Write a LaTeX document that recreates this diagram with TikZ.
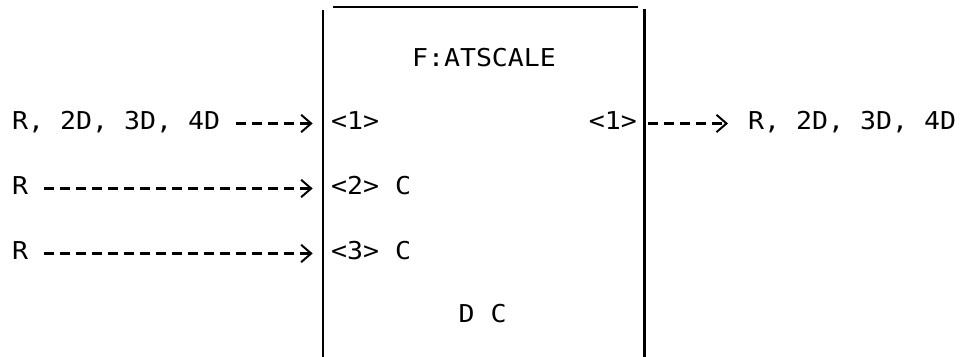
\documentclass[tikz,border=0pt]{standalone}
\usepackage{fontspec}
\newfontfamily\mono[FakeStretch=1.08]{DejaVu Sans Mono}
\usepackage{tikz}
\usetikzlibrary{arrows.meta,positioning}

\begin{document}
\begin{tikzpicture}[
  every node/.style={font=\mono\fontsize{21}{25}\selectfont, inner sep=0pt},
  link/.style={line width=1.8pt, dash pattern=on 0.3cm off 0.18cm,
    -{Straight Barb[length=0.3cm, width=0.52cm, line width=1.7pt]},
    shorten <=0.48cm, shorten >=0.55cm, transform canvas={yshift=0.12cm}},
  wall/.style={line width=2.4pt}
]
\useasboundingbox (0,0) rectangle (28.89,10.71);

% block frame
\node (blk) [anchor=south west, minimum width=9.63cm, minimum height=10.4cm] at (9.69,0) {};
\draw[wall] (blk.south west) -- (blk.north west);
\draw[wall] (blk.south east) -- ([yshift=0.03cm]blk.north east);
\draw[line width=1.3pt] ([xshift=0.3cm, yshift=0.08cm]blk.north west) -- ([xshift=-0.18cm, yshift=0.08cm]blk.north east);

\node (title) [anchor=base] at (14.52, 8.70) {F:ATSCALE};
\node (dc) [anchor=base] at (14.48, 1.02) {D C};

% inputs
\node (a1) [anchor=base west] at (0.36, 6.81) {R, 2D, 3D, 4D};
\node (a2) [anchor=base west] at (0.36, 4.86) {R};
\node (a3) [anchor=base west] at (0.36, 2.91) {R};
\node (p1) [anchor=base west] at (9.93, 6.81) {<1>};
\node (p2) [anchor=base west] at (9.93, 4.86) {<2> C};
\node (p3) [anchor=base west] at (9.93, 2.91) {<3> C};

% output
\node (q1) [anchor=base east] at (19.11, 6.81) {<1>};
\node (b1) [anchor=base west] at (22.44, 6.81) {R, 2D, 3D, 4D};

\draw[link] (a1.mid east) -- (p1.mid west);
\draw[link] (a2.mid east) -- (p2.mid west -| p1.mid west);
\draw[link] (a3.mid east) -- (p3.mid west -| p1.mid west);
\draw[link, shorten <=0.33cm, shorten >=0.6cm] (q1.mid east) -- (b1.mid west);
\end{tikzpicture}
\end{document}
